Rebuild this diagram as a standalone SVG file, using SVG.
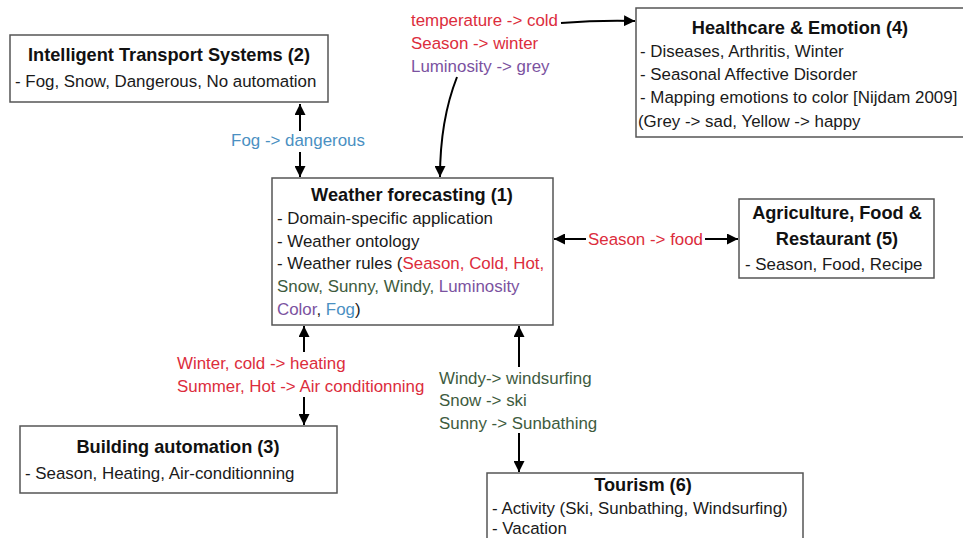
<svg xmlns="http://www.w3.org/2000/svg" width="963" height="538" viewBox="0 0 963 538">
<defs>
<marker id="ah" viewBox="0 0 10 10" refX="10" refY="5" markerWidth="5.5" markerHeight="5.5" orient="auto" markerUnits="strokeWidth">
<path d="M0,0 L10,5 L0,10 z" fill="#000"/>
</marker>
<style>
text{font-family:"Liberation Sans",Arial,sans-serif;font-size:16.9px;fill:#1a1a1a}
.t{font-weight:bold;text-anchor:middle;font-size:18.2px;fill:#111}
.box{fill:#fff;stroke:#555;stroke-width:1.5}
.c{fill:none;stroke:#000;stroke-width:2;marker-end:url(#ah)}
.r{fill:#dc2d3c}
.g{fill:#3e5b3e}
.p{fill:#7b52a0}
.b{fill:#4a90c2}
</style>
</defs>
<rect width="963" height="538" fill="#fff"/>

<g id="connectors">
<line class="c" x1="300" y1="131" x2="300" y2="104"/>
<line class="c" x1="300" y1="152" x2="300" y2="177"/>
<path class="c" d="M457,77 C446,105 440,135 440,177"/>
<path class="c" d="M561,23 Q600,20 635,21"/>
<line class="c" x1="586" y1="239" x2="554" y2="239"/>
<line class="c" x1="705" y1="239" x2="738" y2="239"/>
<line class="c" x1="304" y1="352" x2="304" y2="326"/>
<line class="c" x1="304" y1="397" x2="304" y2="425"/>
<line class="c" x1="519" y1="367" x2="519" y2="326"/>
<line class="c" x1="519" y1="433" x2="519" y2="472"/>
<text class="b" x="298" y="146" text-anchor="middle">Fog -&gt; dangerous</text>
<text class="r" x="411" y="26">temperature -&gt; cold</text>
<text class="r" x="411" y="49">Season -&gt; winter</text>
<text class="p" x="411" y="72">Luminosity -&gt; grey</text>
<text class="r" x="645.5" y="245" text-anchor="middle">Season -&gt; food</text>
<text class="r" x="177" y="369">Winter, cold -&gt; heating</text>
<text class="r" x="177" y="392">Summer, Hot -&gt; Air conditionning</text>
<text class="g" x="439" y="384">Windy-&gt; windsurfing</text>
<text class="g" x="439" y="406">Snow -&gt; ski</text>
<text class="g" x="439" y="429">Sunny -&gt; Sunbathing</text>
</g>

<g id="n1">
<rect class="box" x="272" y="178" width="281" height="147"/>
<text class="t" x="412" y="201">Weather forecasting (1)</text>
<text x="277" y="224">- Domain-specific application</text>
<text x="277" y="247">- Weather ontology</text>
<text x="277" y="269">- Weather rules (<tspan class="r">Season, Cold, Hot,</tspan></text>
<text x="277" y="292"><tspan class="g">Snow, Sunny, Windy, </tspan><tspan class="p">Luminosity</tspan></text>
<text x="277" y="315"><tspan class="p">Color</tspan>, <tspan class="b">Fog</tspan>)</text>
</g>

<g id="n2">
<rect class="box" x="10" y="35" width="318" height="67"/>
<text class="t" x="169" y="61">Intelligent Transport Systems (2)</text>
<text x="15" y="87">- Fog, Snow, Dangerous, No automation</text>
</g>

<g id="n3">
<rect class="box" x="20" y="426" width="317" height="67"/>
<text class="t" x="178" y="453">Building automation (3)</text>
<text x="25" y="479">- Season, Heating, Air-conditionning</text>
</g>

<g id="n4">
<rect class="box" x="636" y="8" width="330" height="129"/>
<text class="t" x="800" y="34">Healthcare &amp; Emotion (4)</text>
<text x="640" y="57">- Diseases, Arthritis, Winter</text>
<text x="640" y="80">- Seasonal Affective Disorder</text>
<text x="640" y="103">- Mapping emotions to color [Nijdam 2009]</text>
<text x="638" y="127">(Grey -&gt; sad, Yellow -&gt; happy</text>
</g>

<g id="n5">
<rect class="box" x="739" y="199" width="195" height="79"/>
<text class="t" x="837" y="219">Agriculture, Food &amp;</text>
<text class="t" x="837" y="245">Restaurant (5)</text>
<text x="745" y="270">- Season, Food, Recipe</text>
</g>

<g id="n6">
<rect class="box" x="487" y="473" width="316" height="80"/>
<text class="t" x="643" y="491">Tourism (6)</text>
<text x="492" y="514">- Activity (Ski, Sunbathing, Windsurfing)</text>
<text x="492" y="534">- Vacation</text>
</g>
</svg>
